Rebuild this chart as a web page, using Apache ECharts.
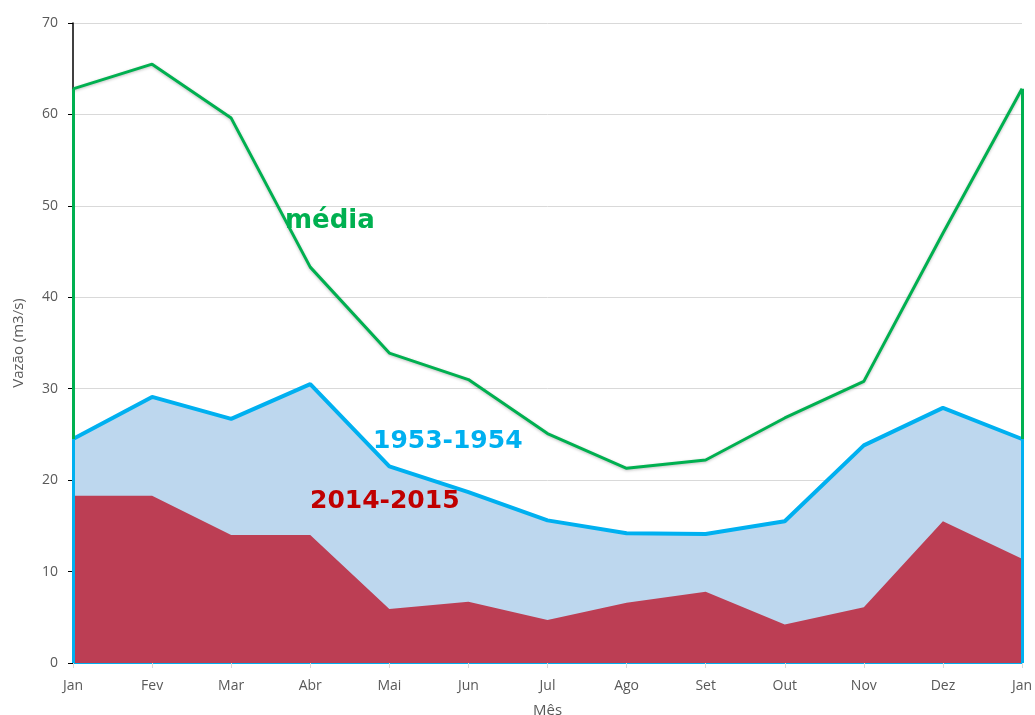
<!DOCTYPE html>
<html><head><meta charset="utf-8">
<script src="https://cdn.jsdelivr.net/npm/echarts@6/dist/echarts.min.js"></script>
<style>html,body{margin:0;padding:0;background:#fff;overflow:hidden}#c{width:1035px;height:715px}</style>
</head><body><div id="c"></div>
<script>
const months = ['Jan','Fev','Mar','Abr','Mai','Jun','Jul','Ago','Set','Out','Nov','Dez','Jan'];
const media = [62.8,65.5,59.6,43.3,33.9,31.0,25.1,21.3,22.2,26.8,30.8,47.0,62.8];
const s1953 = [24.5,29.1,26.7,30.5,21.5,18.7,15.6,14.2,14.1,15.5,23.8,27.9,24.5];
const s2014 = [18.3,18.3,14.0,14.0,5.9,6.7,4.7,6.6,7.8,4.2,6.1,15.5,11.4];
const yTicks = [0,10,20,30,40,50,60,70];

const font = 'Open Sans';
const last = months.length - 1;
function edges(arr, color, width) {
  return {
    silent: true, symbol: 'none', label: {show: false},
    lineStyle: {color: color, width: width, type: 'solid'},
    data: [
      [{coord: [0, 0]}, {coord: [0, arr[0]]}],
      [{coord: [last, 0]}, {coord: [last, arr[last]]}]
    ]
  };
}
const chart = echarts.init(document.getElementById('c'));
chart.setOption({
  animation: false,
  grid: {left: 73, right: 13, top: 23, bottom: 52, containLabel: false, outerBoundsMode: 'none'},
  xAxis: {
    type: 'category', data: months.map((m,i)=>i), boundaryGap: false,
    name: 'Mês', nameLocation: 'middle', nameGap: 40,
    nameTextStyle: {color: '#595959', fontFamily: font, fontSize: 15},
    axisLine: {lineStyle: {color: '#00B0F0', width: 2}},
    axisTick: {show: true, length: 5, lineStyle: {color: '#D9D9D9'}},
    axisLabel: {color: '#595959', fontFamily: font, fontSize: 14, margin: 16,
      formatter: v => months[+v]},
    splitLine: {show: false}
  },
  yAxis: {
    type: 'value', min: yTicks[0], max: yTicks[yTicks.length-1], interval: 10,
    name: 'Vazão (m3/s)', nameLocation: 'middle', nameGap: 47, nameRotate: 90,
    nameTextStyle: {color: '#595959', fontFamily: font, fontSize: 15},
    axisLine: {show: true, lineStyle: {color: '#000', width: 1.5}},
    axisTick: {show: true, length: 5, lineStyle: {color: '#000'}},
    axisLabel: {color: '#595959', fontFamily: font, fontSize: 14, margin: 15},
    splitLine: {lineStyle: {color: '#D9D9D9'}}
  },
  series: [
    {
      name: '1953-1954 area', type: 'line', data: s1953, symbol: 'none', z: 1,
      lineStyle: {width: 0, color: '#BDD7EE'},
      areaStyle: {color: '#BDD7EE', opacity: 1}
    },
    {
      name: '2014-2015', type: 'line', data: s2014, symbol: 'none', z: 2,
      lineStyle: {width: 0, color: '#BC3E54'},
      areaStyle: {color: '#BC3E54', opacity: 1}
    },
    {
      name: 'média', type: 'line', data: media, symbol: 'none', z: 3,
      lineStyle: {color: '#00B050', width: 3, shadowColor: 'rgba(0,0,0,0.25)', shadowBlur: 3, shadowOffsetY: 1},
      markLine: edges(media, '#00B050', 3)
    },
    {
      name: '1953-1954', type: 'line', data: s1953, symbol: 'none', z: 4,
      lineStyle: {color: '#00B0F0', width: 4},
      markLine: edges(s1953, '#00B0F0', 3)
    }
  ],
  graphic: [
    {type: 'text', left: 285, top: 208, z: 100, style: {text: 'média', fill: '#00B050', font: 'bold 26px "DejaVu Sans"'}},
    {type: 'text', left: 373, top: 429, z: 100, style: {text: '1953-1954', fill: '#00B0F0', font: 'bold 25px "DejaVu Sans"'}},
    {type: 'text', left: 310, top: 489, z: 100, style: {text: '2014-2015', fill: '#C00000', font: 'bold 25px "DejaVu Sans"'}}
  ]
});
</script></body></html>
